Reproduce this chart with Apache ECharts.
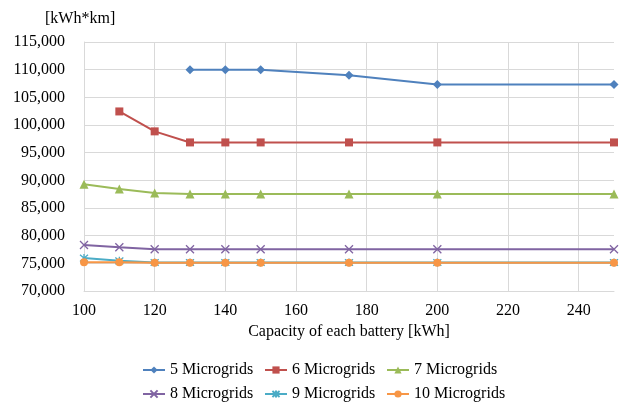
<!DOCTYPE html>
<html><head><meta charset="utf-8">
<script src="https://cdn.jsdelivr.net/npm/echarts@6/dist/echarts.min.js"></script>
<style>html,body{margin:0;padding:0;background:#fff}#c{width:627px;height:405px}</style>
</head><body><div id="c"></div>
<script>
const seriesNames = ['5 Microgrids','6 Microgrids','7 Microgrids','8 Microgrids','9 Microgrids','10 Microgrids'];
const cap5 = [130,140,150,175,200,250];
const val5 = [110000,110000,110000,109000,107300,107300];
const cap6 = [110,120,130,140,150,175,200,250];
const val6 = [102450,98850,96850,96850,96850,96850,96850,96850];
const capAll = [100,110,120,130,140,150,175,200,250];
const val7 = [89300,88450,87700,87550,87550,87550,87550,87550,87550];
const val8 = [78300,77900,77550,77550,77550,77550,77550,77550,77550];
const val9 = [75950,75450,75150,75150,75150,75150,75150,75150,75150];
const val10 = [75180,75180,75100,75100,75100,75100,75100,75100,75100];

const pair = (xs, ys) => xs.map((x,i)=>[x, ys[i]]);
const font = 'Liberation Serif';
const fs = 16;
const colors = ['#4F81BD','#C0504D','#9BBB59','#8064A2','#4BACC6','#F79646'];
const crossPath = 'path://M0,0L10,10M10,0L0,10';
const starPath = 'path://M0,0L10,10M10,0L0,10M5,-1L5,11';
function mk(i, data, symbol, size, extra){
  return Object.assign({
    name: seriesNames[i], type:'line', data: data,
    symbol: symbol, symbolSize: size,
    lineStyle:{color:colors[i], width:2},
    itemStyle:{color:colors[i]},
    emphasis:{disabled:true}
  }, extra||{});
}
const series = [
  mk(0, pair(cap5,val5), 'diamond', 9),
  mk(1, pair(cap6,val6), 'rect', 8),
  mk(2, pair(capAll,val7), 'triangle', 9),
  mk(3, pair(capAll,val8), crossPath, 8, {itemStyle:{color:'none', borderColor:colors[3], borderWidth:1.3}}),
  mk(4, pair(capAll,val9), starPath, 8, {itemStyle:{color:'none', borderColor:colors[4], borderWidth:1.3}}),
  mk(5, pair(capAll,val10), 'circle', 8)
];
const colLeft = [142, 264, 386];
const rowTop = [362, 386];
const legends = seriesNames.map((n, i) => ({
  left: colLeft[i % 3], top: rowTop[Math.floor(i / 3)], data: [n],
  itemWidth: 22, itemHeight: 9, padding: 0,
  textStyle:{fontFamily:font, fontSize:fs, color:'#000'}
}));
const chart = echarts.init(document.getElementById('c'), null, {renderer:'canvas'});
chart.setOption({
  animation:false,
  color: colors,
  title:{text:'[kWh*km]', left:40, top:6, textStyle:{fontFamily:font, fontSize:fs, fontWeight:'normal', color:'#000'}},
  grid:{left:84, right:13, top:42, bottom:114},
  xAxis:{
    type:'value', min:100, max:250, interval:20,
    name:'Capacity of each battery [kWh]', nameLocation:'middle', nameGap:24,
    nameTextStyle:{fontFamily:font, fontSize:fs, color:'#000'},
    axisLine:{lineStyle:{color:'#d9d9d9', width:1}},
    axisTick:{show:false},
    axisLabel:{fontFamily:font, fontSize:fs, color:'#000', margin:12, showMaxLabel:false},
    splitLine:{show:true, showMaxLine:false, lineStyle:{color:'#d9d9d9', width:1}}
  },
  yAxis:{
    type:'value', min:70000, max:115000, interval:5000,
    axisLine:{show:true, lineStyle:{color:'#d9d9d9', width:1}},
    axisTick:{show:false},
    axisLabel:{fontFamily:font, fontSize:fs, color:'#000', margin:19,
      formatter: v => v.toLocaleString('en-US')},
    splitLine:{show:true, lineStyle:{color:'#d9d9d9', width:1}}
  },
  legend: legends,
  series: series
});
</script></body></html>
